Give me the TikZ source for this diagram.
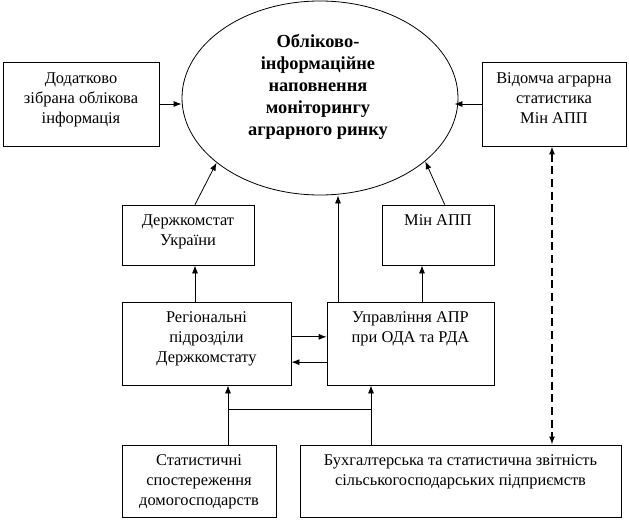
\documentclass[tikz,border=0pt]{standalone}
\usepackage{fontspec}
\setmainfont{Liberation Serif}
\usetikzlibrary{arrows.meta,positioning,shapes.geometric}

\tikzset{
  blk/.style={draw, line width=0.6pt, inner sep=0pt},
  txt/.style={align=center, inner sep=0pt, font=\fontsize{12.3}{15}\selectfont},
}

\begin{document}
\begin{tikzpicture}[x=0.75pt, y=-0.75pt, >={Latex[length=6pt,width=4.5pt]}, line width=0.6pt]
    \useasboundingbox (0,0) rectangle (629,521);
    % central ellipse
    \node[draw, ellipse, line width=0.6pt, minimum width=207pt, minimum height=145.5pt, inner sep=0pt] (ell) at (320,98) {};
    \node[align=center, inner sep=0pt, font=\fontsize{13.8}{16.5}\selectfont\bfseries] (ell-t) at (318,87) {Обліково-\\інформаційне\\наповнення\\моніторингу\\аграрного ринку};
    % boxes
    \node[blk, minimum width=117pt, minimum height=63pt] (add) at (81,104) {};
    \node[txt, anchor=north] (add-t) at ([yshift=-8pt]add.north) {Додатково\\зібрана облікова\\інформація};
    \node[blk, minimum width=108pt, minimum height=63pt] (vid) at (554,104) {};
    \node[txt, anchor=north] (vid-t) at ([yshift=-8pt]vid.north) {Відомча аграрна\\статистика\\Мін АПП};
    \node[blk, minimum width=99pt, minimum height=45pt] (dk) at (188,235) {};
    \node[txt, anchor=north] (dk-t) at ([yshift=-7.5pt]dk.north) {Держкомстат\\України};
    \node[blk, minimum width=84pt, minimum height=45pt] (min) at (438,235) {};
    \node[txt, anchor=north] (min-t) at ([yshift=-7.5pt]min.north) {Мін АПП};
    \node[blk, minimum width=126.75pt, minimum height=62.25pt] (reg) at (206.5,343.5) {};
    \node[txt, anchor=north] (reg-t) at ([yshift=-7.5pt]reg.north) {Регіональні\\підрозділи\\Держкомстату};
    \node[blk, minimum width=125.25pt, minimum height=62.25pt] (upr) at (410.5,343.5) {};
    \node[txt, anchor=north] (upr-t) at ([yshift=-7.5pt]upr.north) {Управління АПР\\при ОДА та РДА};
    \node[blk, minimum width=115.5pt, minimum height=54pt] (st) at (199,481) {};
    \node[txt, anchor=north] (st-t) at ([yshift=-7.5pt]st.north) {Статистичні\\спостереження\\домогосподарств};
    \node[blk, minimum width=240.75pt, minimum height=54pt] (bukh) at (460.5,481) {};
    \node[txt, anchor=north] (bukh-t) at ([yshift=-7.5pt]bukh.north) {Бухгалтерська та статистична звітність\\сільськогосподарських підприємств};
    % columns of the vertical lines
    \coordinate (c1) at (195,0);
    \coordinate (c2) at (338,0);
    \coordinate (c3) at (422,0);
    \coordinate (c4) at (552,0);
    \coordinate (j1) at (228,409);
    \coordinate (j2) at (371,409);
    % arrows
    \draw[->] (add.east) -- (add.east -| ell.west);
    \draw[->] (vid.west) -- ([xshift=-3pt]vid.west -| ell.east);
    \draw[->] (dk.north -| c1) -- (ell.212);
    \draw[->] ([xshift=5pt]min.north) -- (ell.329);
    \draw[->] (upr.north -| c2) -- (ell.south -| c2);
    \draw[->] (reg.north -| c1) -- (dk.south -| c1);
    \draw[->] (upr.north -| c3) -- (min.south -| c3);
    \draw[->] ([yshift=5pt]reg.east) -- ([yshift=5pt]upr.west);
    \draw[->] ([yshift=-14pt]upr.west) -- ([yshift=-14pt]reg.east);
    \draw[->] (st.north -| j1) -- (reg.south -| j1);
    \draw[->] (bukh.north -| j2) -- (upr.south -| j2);
    \draw (j1) -- (j2);
    \draw[<->, line width=1.3pt, dash pattern=on 6pt off 3.5pt] (vid.south -| c4) -- (bukh.north -| c4);
\end{tikzpicture}
\end{document}
